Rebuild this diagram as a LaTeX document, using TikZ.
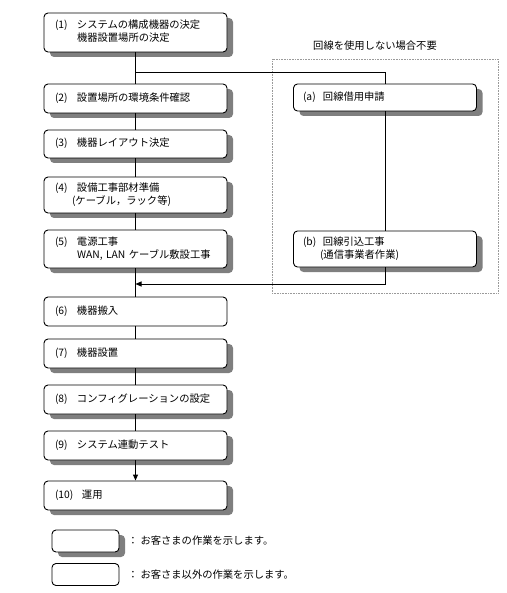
\documentclass[tikz,border=0pt]{standalone}
\usepackage{fontspec}
\newfontfamily\jp{Noto Sans CJK JP}
\usetikzlibrary{arrows.meta, positioning, shadows}
\definecolor{cshade}{HTML}{7F7F7F}
\definecolor{czone}{HTML}{9A9A9A}
\newcommand\stepno[3][22pt]{\makebox[#1][l]{#2}\begin{tabular}[t]{@{}l@{}}#3\end{tabular}}
\tikzset{
  every picture/.style={font=\jp\fontsize{10.3}{13}\selectfont, line width=0.9pt},
  task/.style={draw, rounded corners=4pt, fill=white, minimum width=183pt, text width=161pt, align=left, inner sep=0pt},
  own/.style={task, drop shadow={shadow xshift=6pt, shadow yshift=-5pt, fill=cshade, opacity=1}},
  keybox/.style={draw, rounded corners=4pt, fill=white, minimum width=67pt, minimum height=22pt, inner sep=0pt},
  link/.style={draw, line width=0.9pt},
  arrow/.style={link, -{Triangle[length=6pt, width=5pt]}},
  note/.style={anchor=west, inner sep=0pt},
}
\begin{document}
\begin{tikzpicture}[x=1pt, y=-1pt]
  \useasboundingbox (0,0) rectangle (506,593);
  % optional line work
  \node (zone) [draw=czone, densely dotted, line width=0.6pt, minimum width=226pt, minimum height=234pt] at (385,176) {};
  \node (zonetitle) at (375,46) {回線を使用しない場合不要};
  % main steps
  \node (s1) [own, minimum height=39pt] at (135.5,32.5) {\stepno{(1)}{システムの構成機器の決定\\機器設置場所の決定}};
  \node (s2) [own, minimum height=29pt] at (135.5,98.5) {\stepno{(2)}{設置場所の環境条件確認}};
  \node (s3) [own, minimum height=28pt] at (135.5,144) {\stepno{(3)}{機器レイアウト決定}};
  \node (s4) [own, minimum height=36pt] at (135.5,195) {\stepno{(4)}{設備工事部材準備\\\hspace*{-5pt}(ケーブル，ラック等)}};
  \node (s5) [own, minimum height=38pt] at (135.5,249) {\stepno{(5)}{電源工事\\WAN, LAN ケーブル敷設工事}};
  \node (s6) [task, minimum height=29pt] at (135.5,311.5) {\stepno{(6)}{機器搬入}};
  \node (s7) [own, minimum height=29pt] at (135.5,353.5) {\stepno{(7)}{機器設置}};
  \node (s8) [own, minimum height=29pt] at (135.5,399.5) {\stepno{(8)}{コンフィグレーションの設定}};
  \node (s9) [own, minimum height=29pt] at (135.5,445.5) {\stepno{(9)}{システム連動テスト}};
  \node (s10) [own, minimum height=29pt] at (135.5,495.5) {\stepno[27pt]{(10)}{運用}};
  % line steps
  \node (la) [own, minimum height=27pt, text width=164pt] at (385,97.5) {\stepno[20pt]{(a)}{回線借用申請}};
  \node (lb) [own, minimum height=36pt, text width=164pt] at (385,249) {\stepno[20pt]{(b)}{回線引込工事\\\hspace*{-3pt}(通信事業者作業)}};
  \coordinate (fork) at (135.5,72);
  \coordinate (join) at (135.5,284);
  % connectors
  \draw[link] (s1) -- (s2);
  \draw[link] (s2) -- (s3);
  \draw[link] (s3) -- (s4);
  \draw[link] (s4) -- (s5);
  \draw[link] (s5) -- (s6);
  \draw[link] (s6) -- (s7);
  \draw[link] (s7) -- (s8);
  \draw[link] (s8) -- (s9);
  \draw[arrow] (s9) -- (s10);
  \draw[link] (fork) -| (la.north);
  \draw[link] (la) -- (lb);
  \draw[arrow] (lb.south) |- (join);
  % legend
  \node (key1) [keybox, drop shadow={shadow xshift=6pt, shadow yshift=-5pt, fill=cshade, opacity=1}] at (85.5,541) {};
  \node (key2) [keybox] at (85.5,574.5) {};
  \node (note1) [note, right=8pt of key1] {：~お客さまの作業を示します。};
  \node (note2) [note, right=8pt of key2] {：~お客さま以外の作業を示します。};
\end{tikzpicture}
\end{document}
